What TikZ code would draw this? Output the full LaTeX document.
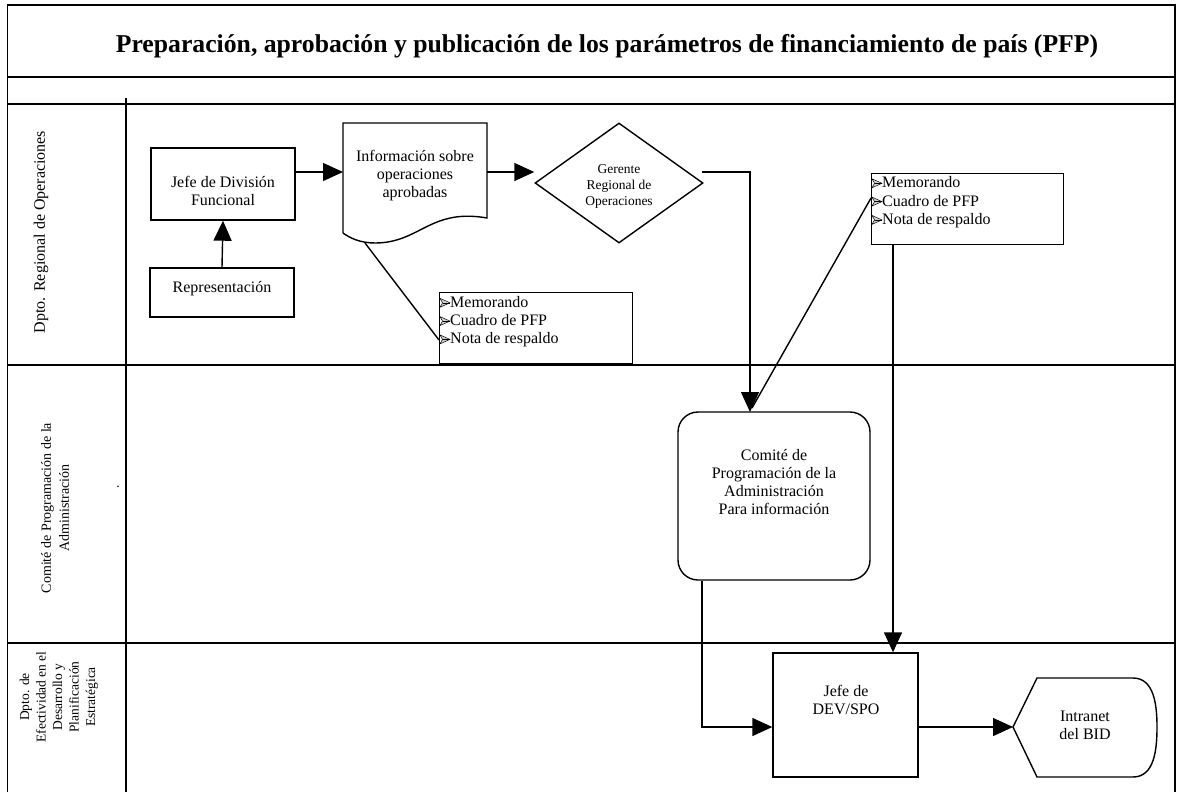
\documentclass[tikz,border=0pt]{standalone}
\usepackage{fontspec}
\setmainfont{Liberation Serif}
\usetikzlibrary{arrows.meta,shapes.geometric,calc}
\newcommand{\bul}{\tikz[x=1pt,y=1pt,baseline=0pt]{\filldraw[fill=gray!35,line width=0.5pt,line join=miter] (0,0) -- (10,4.5) -- (0,9) -- (2.6,4.5) -- cycle; \draw[line width=0.5pt] (2.6,4.5) -- (10,4.5);}}
\begin{document}
\begin{tikzpicture}[x=1pt,y=-1pt,
 box/.style={draw,line width=1.4pt,inner sep=0pt},
 txt/.style={font=\fontsize{16}{18}\selectfont,align=center,inner sep=0pt},
 smalltxt/.style={font=\fontsize{13.5}{16}\selectfont,align=center,inner sep=0pt},
 listtxt/.style={font=\fontsize{16}{18.3}\selectfont,align=left,inner sep=0pt,anchor=north west},
 arr/.style={line width=1.4pt,-{Triangle[length=20pt,width=18pt]}},
 ln/.style={line width=1.4pt},
 frame/.style={line width=1.8pt},
 lanelbl/.style={font=\fontsize{16}{17}\selectfont,align=center,inner sep=0pt,rotate=90}]
\useasboundingbox (0,0) rectangle (1177,792);
\fill[white] (0,0) rectangle (1177,792);
% frame
\draw[frame] (7.5,792) -- (7.5,5) -- (1175,5) -- (1175,792);
\draw[frame] (7.5,77) -- (1175,77);
\draw[frame] (7.5,104) -- (1175,104);
\draw[line width=1.2pt] (7.5,365) -- (1175,365);
\draw[frame] (7.5,643) -- (1175,643);
\draw[frame] (126,98) -- (126,792);
% title
\node[font=\bfseries\fontsize{25.7}{28}\selectfont,inner sep=0pt] (title) at (607,46) {Preparación, aprobación y publicación de los parámetros de financiamiento de país (PFP)};
% lane labels
\node[lanelbl] (lane1) at (41,232) {Dpto. Regional de Operaciones};
\node[lanelbl,font=\fontsize{14}{18}\selectfont] (lane2) at (55,508) {Comité de Programación de la\\Administración};
\node[lanelbl,font=\fontsize{13.5}{16.5}\selectfont] (lane3) at (59,697) {Dpto. de\\Efectividad en el\\Desarrollo y\\Planificación\\Estratégica};
\node[inner sep=0pt,font=\fontsize{14}{14}\selectfont] (dot) at (118,487) {.};
% nodes
\node[box,minimum width=144pt,minimum height=72pt] (jefe) at (223,184) {};
\node[txt] (jefetxt) at (223,191) {Jefe de División\\Funcional};
\node[box,minimum width=144pt,minimum height=49pt] (rep) at (222,292.5) {};
\node[txt] (reptxt) at (222,289) {Representación};
% document shape
\draw[ln] (343,233) -- (343,123) -- (487,123) -- (487,218)
  .. controls (430,208) and (420,243) .. (375,243)
  .. controls (360,243) and (350,238) .. (343,233);
\node[txt] (info) at (415,175.5) {Información sobre\\operaciones\\aprobadas};
\coordinate (infoW) at (343,172);
\coordinate (infoE) at (487,172);
\coordinate (infoB) at (365,243);
% diamond
\node[box,diamond,minimum width=168pt,minimum height=120pt] (ger) at (619,183) {};
\node[smalltxt] (gertxt) at (619,186) {Gerente\\Regional de\\Operaciones};
% memo boxes
\node[box,minimum width=193pt,minimum height=71pt,anchor=north west] (m1) at (439,292) {};
\node[listtxt] (m1txt) at (439.5,296) {\bul Memorando\\\bul Cuadro de PFP\\\bul Nota de respaldo};
\node[box,minimum width=192pt,minimum height=71pt,anchor=north west] (m2) at (871,173) {};
\node[listtxt] (m2txt) at (871.5,176.5) {\bul Memorando\\\bul Cuadro de PFP\\\bul Nota de respaldo};
% comite
\node[box,rounded corners=20pt,minimum width=192pt,minimum height=168pt] (com) at (774,496) {};
\node[txt] (comtxt) at (774,482) {Comité de\\Programación de la\\Administración\\Para información};
% dev
\node[box,minimum width=145pt,minimum height=124pt] (dev) at (845.5,715) {};
\node[txt] (devtxt) at (846,700) {Jefe de\\DEV/SPO};
% intranet display shape
\draw[ln] (1013,727) -- (1037,678) -- (1133,678) to[out=0,in=90] (1157,727) to[out=-90,in=0] (1133,777) -- (1037,777) -- cycle;
\node[txt] (intr) at (1085,725) {Intranet\\del BID};
\coordinate (intrW) at (1013,727);
% connectors
\draw[arr] (rep.north) -- (jefe.south);
\draw[arr] (jefe.east |- infoW) -- (infoW);
\draw[arr] (infoE) -- (ger.west |- infoE);
\coordinate (gerE) at (702,172);
\coordinate (comTop) at (750,412);
\draw[arr] (gerE) -| (comTop);
\draw[ln] (m2.west |- 0,198) -- ($(comTop)+(2,-4)$);
\draw[ln] (infoB) -- (m1.west |- 0,340);
\draw[arr] (m2.south -| 893,0) -- (dev.north -| 893,0);
\draw[arr] (com.south -| 702,0) |- (dev.west |- intrW);
\draw[arr] (dev.east |- intrW) -- (intrW);
\end{tikzpicture}
\end{document}
